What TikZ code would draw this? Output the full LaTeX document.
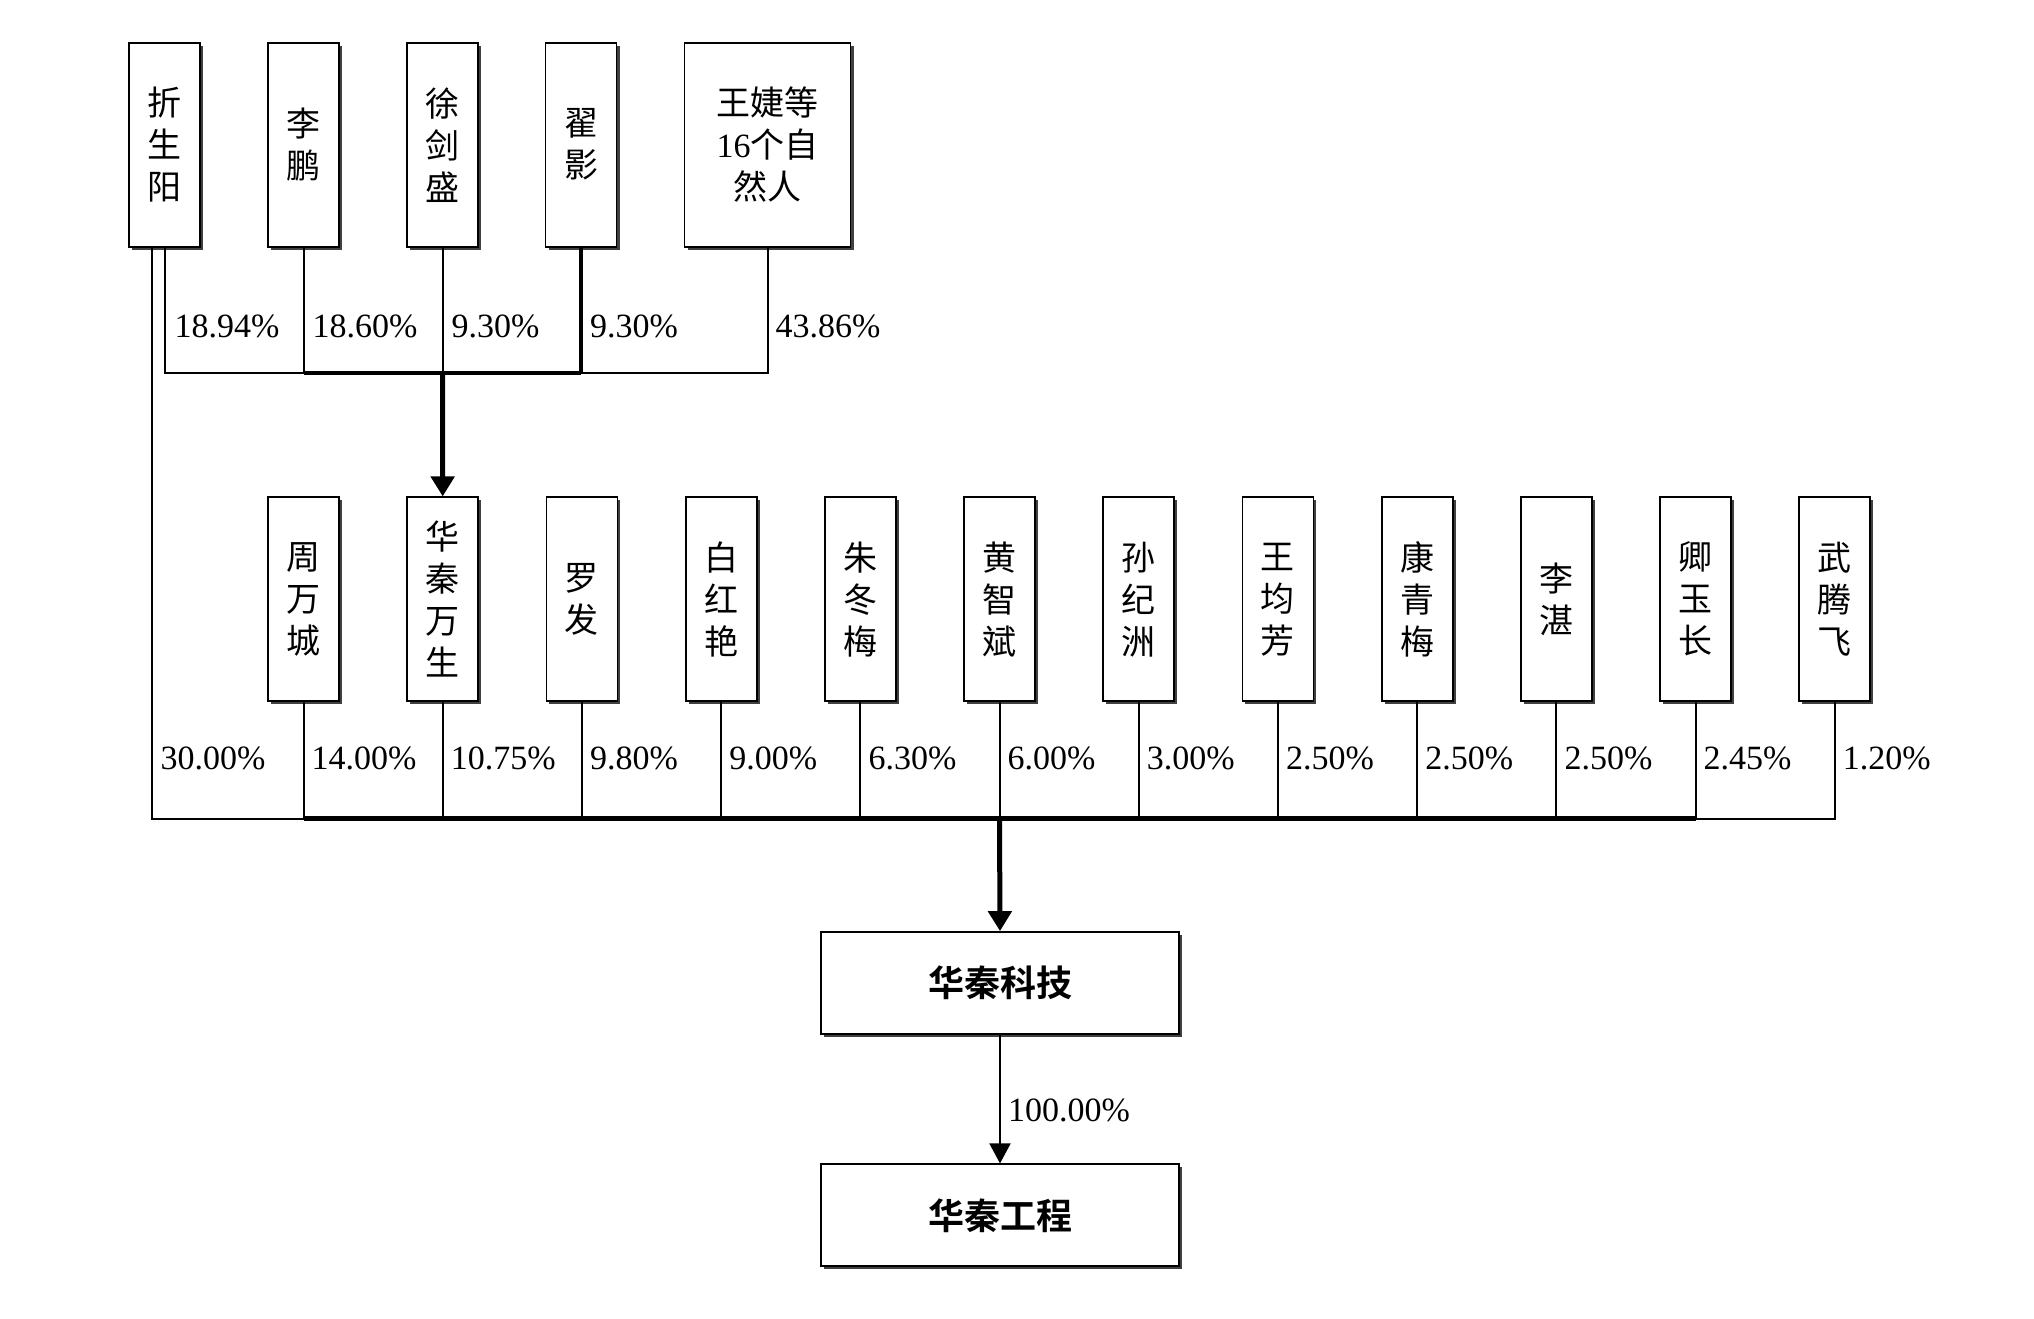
\documentclass[tikz,border=0pt]{standalone}
\usepackage{fontspec}
\setmainfont{Liberation Serif}
\newfontfamily\cjk{Noto Sans CJK SC}[BoldFont={Noto Sans CJK SC Bold}]
\usetikzlibrary{arrows.meta,calc,shadows}
\tikzset{
  boxbase/.style={draw=black, line width=1.8pt, fill=white, inner sep=0pt, align=center,
    drop shadow={shadow xshift=3pt, shadow yshift=-3pt, fill=black!75, opacity=1}},
  vbox/.style={boxbase, minimum width=71pt, minimum height=204pt,
    font=\cjk\fontsize{34}{42}\selectfont},
  wbox/.style={boxbase, minimum width=166pt, minimum height=204pt,
    font=\cjk\fontsize{34}{42}\selectfont},
  cbox/.style={boxbase, minimum width=358pt, minimum height=102pt,
    font=\cjk\bfseries\fontsize{36}{42}\selectfont},
  pct/.style={inner sep=0pt, anchor=west, font=\fontsize{34}{40}\selectfont},
  ln/.style={line width=2pt, line join=miter},
  thick ln/.style={line width=5pt, line join=miter},
  bigarrow/.style={thick ln, -{Triangle[width=23pt,length=20pt]}},
  smallarrow/.style={ln, -{Triangle[width=21pt,length=20pt]}}
}
\begin{document}
\begin{tikzpicture}[x=1pt,y=-1pt]
\useasboundingbox (0,0) rectangle (2034,1318);
% helper rows
\coordinate (tb) at (0,373.3);
\coordinate (bb) at (0,818.5);
\coordinate (tl) at (0,326.7);
\coordinate (bl) at (0,758.3);
% top row
\node[vbox] (a1) at (164.5,144.7) {折\\生\\阳};
\node[vbox] (a2) at (303.5,144.7) {李\\鹏};
\node[vbox] (a3) at (442.5,144.7) {徐\\剑\\盛};
\node[vbox] (a4) at (581,144.7) {翟\\影};
\node[wbox] (a5) at (767.5,144.7) {王婕等\\{\rmfamily 16}个自\\然人};
% second row
\foreach \i/\t in {1/{周\\万\\城},2/{华\\秦\\万\\生},3/{罗\\发},4/{白\\红\\艳},
  5/{朱\\冬\\梅},6/{黄\\智\\斌},7/{孙\\纪\\洲},8/{王\\均\\芳},9/{康\\青\\梅},
  10/{李\\湛},11/{卿\\玉\\长},12/{武\\腾\\飞}}{
  \node[vbox] (b\i) at ({303.5+139.2*(\i-1)},599.3) {\t};
}
% bottom companies
\node[cbox] (c1) at (1000,983) {华秦科技};
\node[cbox] (c2) at (1000,1215.3) {华秦工程};
% top connectors
\coordinate (a1x) at ($(a1.south)+(-12.2,0)$);
\draw[ln] (a1.south) -- (a1|-tb) -- (a5|-tb) -- (a5.south);
\draw[ln] (a2.south) -- (a2|-tb);
\draw[ln] (a3.south) -- (a3|-tb);
\draw[line width=4pt] (a4.south) -- (a4|-tb);
\draw[line width=4pt] (a2|-tb) -- (a4|-tb);
\draw[bigarrow] (a3|-tb) -- (b2.north);
% top labels
\node[pct] (p1) at ($(a1|-tl)+(10,0)$) {18.94\%};
\node[pct] (p2) at ($(a2|-tl)+(9,0)$) {18.60\%};
\node[pct] (p3) at ($(a3|-tl)+(9,0)$) {9.30\%};
\node[pct] (p4) at ($(a4|-tl)+(9,0)$) {9.30\%};
\node[pct] (p5) at ($(a5|-tl)+(8,0)$) {43.86\%};
% bottom connectors
\draw[ln] (a1x) -- (a1x|-bb) -- (b12|-bb) -- (b12.south);
\foreach \i in {1,...,11}{ \draw[ln] (b\i.south) -- (b\i|-bb); }
\draw[thick ln] (b1|-bb) -- (b11|-bb);
\draw[bigarrow] (b6|-bb) -- (c1.north);
\draw[smallarrow] (c1.south) -- (c2.north);
% bottom labels
\node[pct] (q0) at ($(a1x|-bl)+(8,0)$) {30.00\%};
\foreach \i/\p in {1/14.00,2/10.75,3/9.80,4/9.00,5/6.30,6/6.00,7/3.00,8/2.50,9/2.50,10/2.50,11/2.45,12/1.20}{
  \node[pct] (q\i) at ($(b\i|-bl)+(8,0)$) {\p\%};
}
\node[pct] (r1) at (1008,1110) {100.00\%};
\end{tikzpicture}
\end{document}
